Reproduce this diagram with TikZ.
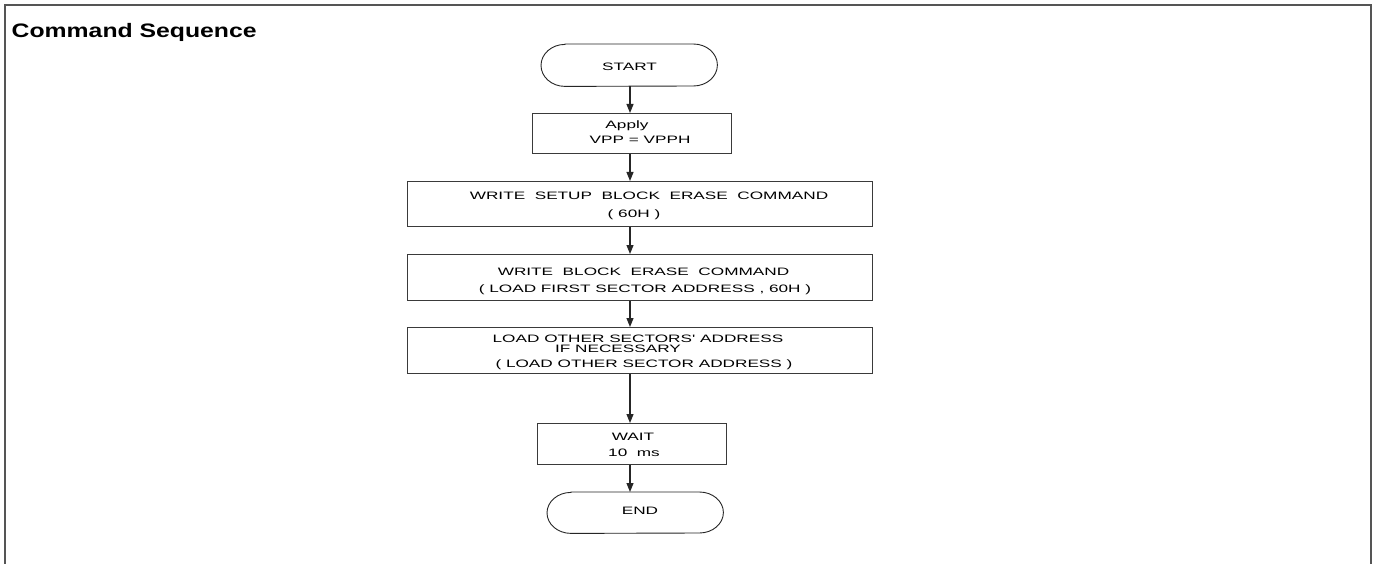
\documentclass[tikz,border=0pt]{standalone}
\usepackage{fontspec}
\setmainfont{Liberation Sans}
\newfontfamily\bxf[FakeStretch=1.6]{Liberation Sans}
\newfontfamily\ttlf[FakeStretch=1.27]{Liberation Sans}
\usetikzlibrary{arrows.meta}
\definecolor{framegray}{HTML}{555555}
\definecolor{linegray}{HTML}{3A3A3A}
\tikzset{
  frameline/.style={draw=framegray,line width=1.6pt},
  box/.style={rectangle,draw=linegray,line width=1.1pt,inner sep=0pt,anchor=north west},
  termbase/.style={rectangle,inner sep=0pt,anchor=north west},
  termline/.style={draw=black!85,line width=0.9pt},
  txt/.style={anchor=base,inner sep=0pt,font=\bxf\fontsize{10.75}{12}\selectfont},
  arr/.style={draw=black!85,line width=1.1pt,-{Triangle[length=9pt,width=7pt]}},
}
\begin{document}
\begin{tikzpicture}[x=1pt,y=-1pt]
\useasboundingbox (0,0) rectangle (1376,564);
\fill[white] (0,0) rectangle (1376,564);
% frame
\draw[frameline] (4.7,564) -- (4.7,5) -- (1371,5) -- (1371,564);
\node[anchor=base west,inner sep=0pt,font=\ttlf\bfseries\fontsize{19.5}{22}\selectfont] (title) at (11.5,37.5) {Command Sequence};
\coordinate (spine) at (630,0);
% START
\node[termbase,minimum width=176pt,minimum height=42pt] (start) at (541,44) {};
\draw[termline] ([xshift=24pt]start.north west) -- ([xshift=-24pt]start.north east)
  arc[start angle=90,end angle=-90,x radius=24pt,y radius=21pt]
  -- ([xshift=24pt]start.south west)
  arc[start angle=270,end angle=90,x radius=24pt,y radius=21pt] -- cycle;
\node[txt] (tstart) at (629.5,70.7) {START};
% Apply
\node[box,minimum width=199pt,minimum height=40pt] (apply) at (532,113) {};
\node[txt] (tapply1) at (627,128.3) {Apply};
\node[txt] (tapply2) at (640,143.3) {VPP = VPPH};
% setup
\node[box,minimum width=465pt,minimum height=45pt] (setup) at (407,181) {};
\node[txt] (tsetup1) at (649,200) {WRITE\ \ SETUP\ \ BLOCK\ \ ERASE\ \ COMMAND};
\node[txt] (tsetup2) at (634,217.3) {( 60H )};
% erase
\node[box,minimum width=465pt,minimum height=46pt] (erase) at (407,254) {};
\node[txt] (terase1) at (643.5,275) {WRITE\ \ BLOCK\ \ ERASE\ \ COMMAND};
\node[txt] (terase2) at (645,292.7) {( LOAD FIRST SECTOR ADDRESS , 60H )};
% load
\node[box,minimum width=465pt,minimum height=46pt] (load) at (407,327) {};
\node[txt] (tload1) at (638,342.7) {LOAD OTHER SECTORS' ADDRESS};
\node[txt] (tload2) at (618,352.7) {IF NECESSARY};
\node[txt] (tload3) at (644,367.3) {( LOAD OTHER SECTOR ADDRESS )};
% wait
\node[box,minimum width=189pt,minimum height=41pt] (wait) at (537,423) {};
\node[txt] (twait1) at (633,440) {WAIT};
\node[txt] (twait2) at (634,456.7) {10\ \ ms};
% END
\node[termbase,minimum width=176pt,minimum height=41pt] (end) at (547,492) {};
\draw[termline] ([xshift=24pt]end.north west) -- ([xshift=-24pt]end.north east)
  arc[start angle=90,end angle=-90,x radius=24pt,y radius=20.5pt]
  -- ([xshift=24pt]end.south west)
  arc[start angle=270,end angle=90,x radius=24pt,y radius=20.5pt] -- cycle;
\node[txt] (tend) at (640,514.3) {END};
% arrows
\draw[arr] (start.south -| spine) -- (apply.north -| spine);
\draw[arr] (apply.south -| spine) -- (setup.north -| spine);
\draw[arr] (setup.south -| spine) -- (erase.north -| spine);
\draw[arr] (erase.south -| spine) -- (load.north -| spine);
\draw[arr] (load.south -| spine) -- (wait.north -| spine);
\draw[arr] (wait.south -| spine) -- (end.north -| spine);
\end{tikzpicture}
\end{document}
